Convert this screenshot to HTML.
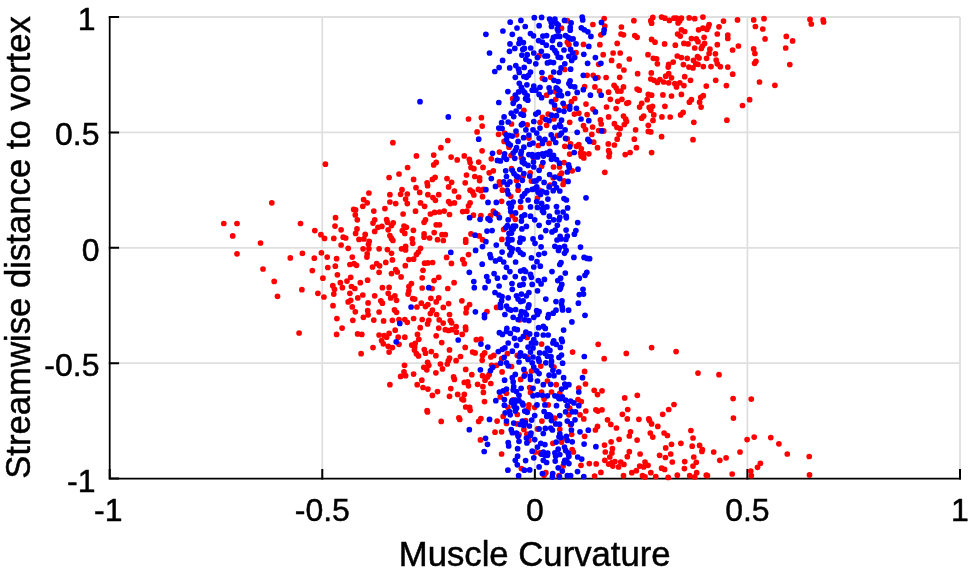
<!DOCTYPE html><html><head><meta charset="utf-8"><title>Scatter</title><style>html,body{margin:0;padding:0;background:#fff}svg{display:block}text{font-family:"Liberation Sans",Arial,Helvetica,sans-serif;fill:#000;stroke:#000;stroke-width:0.5px;stroke-linejoin:round}</style></head><body>
<svg width="969" height="574" viewBox="0 0 969 574">
<rect width="969" height="574" fill="#fff"/>
<path d="M322.27 17.0V478.6M534.85 17.0V478.6M747.42 17.0V478.6M960.00 17.0V478.6M109.7 363.20H960.0M109.7 247.80H960.0M109.7 132.40H960.0M109.7 17.00H960.0" stroke="#dfdfdf" stroke-width="1.8" fill="none"/>
<path d="M109.7 17.0V478.6H960.0" stroke="#000" stroke-width="1.75" fill="none" stroke-linecap="square" stroke-linejoin="miter"/>
<path d="M109.70 479.50V469.00M108.80 478.60H119.10M322.27 479.50V469.00M108.80 363.20H119.10M534.85 479.50V469.00M108.80 247.80H119.10M747.42 479.50V469.00M108.80 132.40H119.10M960.00 479.50V469.00M108.80 17.00H119.10" stroke="#000" stroke-width="2" fill="none" stroke-linecap="butt"/>
<g fill="#ff0000"><circle cx="512.7" cy="98.7" r="2.85"/><circle cx="604.2" cy="18.6" r="2.85"/><circle cx="567.3" cy="20.7" r="2.85"/><circle cx="592.9" cy="24.5" r="2.85"/><circle cx="604.8" cy="26.0" r="2.85"/><circle cx="561.5" cy="28.2" r="2.85"/><circle cx="600.9" cy="34.8" r="2.85"/><circle cx="567.3" cy="42.2" r="2.85"/><circle cx="568.9" cy="44.7" r="2.85"/><circle cx="583.5" cy="44.4" r="2.85"/><circle cx="599.9" cy="44.7" r="2.85"/><circle cx="576.0" cy="52.7" r="2.85"/><circle cx="603.2" cy="54.7" r="2.85"/><circle cx="539.1" cy="55.5" r="2.85"/><circle cx="598.7" cy="64.3" r="2.85"/><circle cx="564.8" cy="69.5" r="2.85"/><circle cx="587.1" cy="75.3" r="2.85"/><circle cx="593.2" cy="75.3" r="2.85"/><circle cx="597.9" cy="77.5" r="2.85"/><circle cx="606.1" cy="77.5" r="2.85"/><circle cx="542.4" cy="78.3" r="2.85"/><circle cx="550.7" cy="77.3" r="2.85"/><circle cx="584.6" cy="86.6" r="2.85"/><circle cx="594.9" cy="86.9" r="2.85"/><circle cx="599.5" cy="91.1" r="2.85"/><circle cx="554.9" cy="91.6" r="2.85"/><circle cx="546.6" cy="95.2" r="2.85"/><circle cx="608.6" cy="92.2" r="2.85"/><circle cx="574.7" cy="98.5" r="2.85"/><circle cx="555.7" cy="99.3" r="2.85"/><circle cx="633.9" cy="20.7" r="2.85"/><circle cx="621.4" cy="27.0" r="2.85"/><circle cx="621.0" cy="34.0" r="2.85"/><circle cx="623.5" cy="34.8" r="2.85"/><circle cx="634.8" cy="35.6" r="2.85"/><circle cx="637.1" cy="37.3" r="2.85"/><circle cx="617.2" cy="43.4" r="2.85"/><circle cx="613.1" cy="53.0" r="2.85"/><circle cx="620.2" cy="53.0" r="2.85"/><circle cx="629.3" cy="59.0" r="2.85"/><circle cx="611.6" cy="60.4" r="2.85"/><circle cx="619.1" cy="65.9" r="2.85"/><circle cx="623.9" cy="70.0" r="2.85"/><circle cx="637.6" cy="73.7" r="2.85"/><circle cx="619.7" cy="77.3" r="2.85"/><circle cx="614.1" cy="85.3" r="2.85"/><circle cx="616.1" cy="87.8" r="2.85"/><circle cx="617.7" cy="91.1" r="2.85"/><circle cx="621.0" cy="91.1" r="2.85"/><circle cx="623.5" cy="86.9" r="2.85"/><circle cx="637.1" cy="89.1" r="2.85"/><circle cx="639.2" cy="90.2" r="2.85"/><circle cx="621.9" cy="99.3" r="2.85"/><circle cx="610.3" cy="99.3" r="2.85"/><circle cx="652.8" cy="17.4" r="2.85"/><circle cx="650.8" cy="20.7" r="2.85"/><circle cx="651.6" cy="23.2" r="2.85"/><circle cx="661.6" cy="17.1" r="2.85"/><circle cx="664.9" cy="18.2" r="2.85"/><circle cx="669.4" cy="20.4" r="2.85"/><circle cx="674.0" cy="18.2" r="2.85"/><circle cx="676.5" cy="18.2" r="2.85"/><circle cx="681.4" cy="18.2" r="2.85"/><circle cx="679.8" cy="20.7" r="2.85"/><circle cx="678.1" cy="22.9" r="2.85"/><circle cx="689.2" cy="17.9" r="2.85"/><circle cx="694.7" cy="18.7" r="2.85"/><circle cx="681.4" cy="29.8" r="2.85"/><circle cx="684.7" cy="31.5" r="2.85"/><circle cx="677.6" cy="34.0" r="2.85"/><circle cx="680.3" cy="36.1" r="2.85"/><circle cx="691.4" cy="38.6" r="2.85"/><circle cx="651.6" cy="39.4" r="2.85"/><circle cx="655.0" cy="42.2" r="2.85"/><circle cx="664.6" cy="43.9" r="2.85"/><circle cx="675.3" cy="45.2" r="2.85"/><circle cx="683.9" cy="43.4" r="2.85"/><circle cx="688.1" cy="43.9" r="2.85"/><circle cx="694.7" cy="48.0" r="2.85"/><circle cx="648.0" cy="54.7" r="2.85"/><circle cx="677.3" cy="56.0" r="2.85"/><circle cx="681.4" cy="57.6" r="2.85"/><circle cx="687.2" cy="58.3" r="2.85"/><circle cx="653.3" cy="58.3" r="2.85"/><circle cx="656.6" cy="58.8" r="2.85"/><circle cx="657.4" cy="63.8" r="2.85"/><circle cx="673.2" cy="62.1" r="2.85"/><circle cx="668.7" cy="64.3" r="2.85"/><circle cx="668.2" cy="67.1" r="2.85"/><circle cx="683.4" cy="64.6" r="2.85"/><circle cx="688.9" cy="67.1" r="2.85"/><circle cx="693.0" cy="67.9" r="2.85"/><circle cx="693.5" cy="60.4" r="2.85"/><circle cx="651.3" cy="72.9" r="2.85"/><circle cx="668.7" cy="73.7" r="2.85"/><circle cx="665.7" cy="76.2" r="2.85"/><circle cx="671.5" cy="77.8" r="2.85"/><circle cx="684.7" cy="76.7" r="2.85"/><circle cx="690.5" cy="80.3" r="2.85"/><circle cx="650.8" cy="79.0" r="2.85"/><circle cx="654.1" cy="80.3" r="2.85"/><circle cx="659.9" cy="79.5" r="2.85"/><circle cx="657.4" cy="82.5" r="2.85"/><circle cx="663.7" cy="82.0" r="2.85"/><circle cx="668.7" cy="82.8" r="2.85"/><circle cx="674.8" cy="83.6" r="2.85"/><circle cx="679.8" cy="82.8" r="2.85"/><circle cx="676.5" cy="86.9" r="2.85"/><circle cx="683.9" cy="85.6" r="2.85"/><circle cx="648.3" cy="94.4" r="2.85"/><circle cx="651.6" cy="95.2" r="2.85"/><circle cx="662.9" cy="94.9" r="2.85"/><circle cx="671.5" cy="96.0" r="2.85"/><circle cx="681.4" cy="94.4" r="2.85"/><circle cx="647.2" cy="99.7" r="2.85"/><circle cx="691.4" cy="99.7" r="2.85"/><circle cx="702.9" cy="17.1" r="2.85"/><circle cx="723.5" cy="21.1" r="2.85"/><circle cx="737.5" cy="19.9" r="2.85"/><circle cx="709.1" cy="24.5" r="2.85"/><circle cx="708.2" cy="27.0" r="2.85"/><circle cx="702.9" cy="28.2" r="2.85"/><circle cx="698.6" cy="29.8" r="2.85"/><circle cx="706.9" cy="29.5" r="2.85"/><circle cx="719.0" cy="26.8" r="2.85"/><circle cx="717.3" cy="34.0" r="2.85"/><circle cx="727.8" cy="35.1" r="2.85"/><circle cx="727.8" cy="38.4" r="2.85"/><circle cx="704.1" cy="37.3" r="2.85"/><circle cx="696.3" cy="38.9" r="2.85"/><circle cx="698.0" cy="41.7" r="2.85"/><circle cx="704.6" cy="43.4" r="2.85"/><circle cx="702.4" cy="46.0" r="2.85"/><circle cx="717.3" cy="44.7" r="2.85"/><circle cx="738.4" cy="46.0" r="2.85"/><circle cx="701.3" cy="48.4" r="2.85"/><circle cx="709.9" cy="49.2" r="2.85"/><circle cx="732.6" cy="50.0" r="2.85"/><circle cx="709.1" cy="53.5" r="2.85"/><circle cx="715.4" cy="53.8" r="2.85"/><circle cx="697.5" cy="56.6" r="2.85"/><circle cx="699.1" cy="58.0" r="2.85"/><circle cx="706.6" cy="58.3" r="2.85"/><circle cx="716.2" cy="60.1" r="2.85"/><circle cx="695.8" cy="63.8" r="2.85"/><circle cx="698.0" cy="64.3" r="2.85"/><circle cx="717.3" cy="63.8" r="2.85"/><circle cx="703.3" cy="66.6" r="2.85"/><circle cx="711.0" cy="66.6" r="2.85"/><circle cx="720.3" cy="66.7" r="2.85"/><circle cx="727.8" cy="67.1" r="2.85"/><circle cx="732.7" cy="74.2" r="2.85"/><circle cx="715.7" cy="80.3" r="2.85"/><circle cx="706.3" cy="86.1" r="2.85"/><circle cx="726.4" cy="85.6" r="2.85"/><circle cx="703.3" cy="95.7" r="2.85"/><circle cx="700.8" cy="97.4" r="2.85"/><circle cx="753.7" cy="19.9" r="2.85"/><circle cx="764.0" cy="18.7" r="2.85"/><circle cx="755.4" cy="26.5" r="2.85"/><circle cx="762.8" cy="29.0" r="2.85"/><circle cx="765.0" cy="38.9" r="2.85"/><circle cx="753.7" cy="48.9" r="2.85"/><circle cx="754.9" cy="53.5" r="2.85"/><circle cx="755.9" cy="61.3" r="2.85"/><circle cx="754.6" cy="63.3" r="2.85"/><circle cx="759.5" cy="82.0" r="2.85"/><circle cx="774.9" cy="85.3" r="2.85"/><circle cx="786.3" cy="36.4" r="2.85"/><circle cx="792.6" cy="40.9" r="2.85"/><circle cx="785.7" cy="48.0" r="2.85"/><circle cx="789.8" cy="64.6" r="2.85"/><circle cx="810.0" cy="19.4" r="2.85"/><circle cx="811.3" cy="24.0" r="2.85"/><circle cx="823.2" cy="19.9" r="2.85"/><circle cx="823.6" cy="22.0" r="2.85"/><circle cx="749.6" cy="99.7" r="2.85"/><circle cx="325.4" cy="164.2" r="2.85"/><circle cx="368.9" cy="193.0" r="2.85"/><circle cx="468.5" cy="119.0" r="2.85"/><circle cx="481.4" cy="117.7" r="2.85"/><circle cx="482.2" cy="126.1" r="2.85"/><circle cx="477.1" cy="131.9" r="2.85"/><circle cx="447.8" cy="140.5" r="2.85"/><circle cx="392.9" cy="142.7" r="2.85"/><circle cx="440.9" cy="147.7" r="2.85"/><circle cx="416.4" cy="155.9" r="2.85"/><circle cx="433.7" cy="155.1" r="2.85"/><circle cx="451.1" cy="157.1" r="2.85"/><circle cx="457.2" cy="159.9" r="2.85"/><circle cx="464.3" cy="155.9" r="2.85"/><circle cx="469.3" cy="159.3" r="2.85"/><circle cx="470.1" cy="162.6" r="2.85"/><circle cx="478.7" cy="162.1" r="2.85"/><circle cx="436.2" cy="162.4" r="2.85"/><circle cx="433.7" cy="164.9" r="2.85"/><circle cx="407.6" cy="167.5" r="2.85"/><circle cx="471.0" cy="167.5" r="2.85"/><circle cx="473.9" cy="168.7" r="2.85"/><circle cx="483.0" cy="167.4" r="2.85"/><circle cx="399.0" cy="174.0" r="2.85"/><circle cx="389.1" cy="177.5" r="2.85"/><circle cx="413.6" cy="179.4" r="2.85"/><circle cx="435.1" cy="177.3" r="2.85"/><circle cx="432.4" cy="179.4" r="2.85"/><circle cx="447.0" cy="178.6" r="2.85"/><circle cx="466.5" cy="175.0" r="2.85"/><circle cx="474.8" cy="176.5" r="2.85"/><circle cx="479.6" cy="177.8" r="2.85"/><circle cx="479.6" cy="180.6" r="2.85"/><circle cx="427.1" cy="182.8" r="2.85"/><circle cx="427.6" cy="185.7" r="2.85"/><circle cx="451.6" cy="182.3" r="2.85"/><circle cx="465.2" cy="182.8" r="2.85"/><circle cx="448.6" cy="186.9" r="2.85"/><circle cx="416.0" cy="187.7" r="2.85"/><circle cx="402.0" cy="189.7" r="2.85"/><circle cx="419.7" cy="192.4" r="2.85"/><circle cx="407.3" cy="194.0" r="2.85"/><circle cx="400.6" cy="194.3" r="2.85"/><circle cx="389.9" cy="194.7" r="2.85"/><circle cx="454.4" cy="191.0" r="2.85"/><circle cx="470.1" cy="190.2" r="2.85"/><circle cx="472.6" cy="191.9" r="2.85"/><circle cx="478.4" cy="189.4" r="2.85"/><circle cx="480.9" cy="190.7" r="2.85"/><circle cx="483.4" cy="189.4" r="2.85"/><circle cx="427.9" cy="194.7" r="2.85"/><circle cx="438.7" cy="194.7" r="2.85"/><circle cx="523.9" cy="110.3" r="2.85"/><circle cx="511.5" cy="124.0" r="2.85"/><circle cx="527.2" cy="124.8" r="2.85"/><circle cx="498.6" cy="134.3" r="2.85"/><circle cx="504.6" cy="133.1" r="2.85"/><circle cx="516.5" cy="134.8" r="2.85"/><circle cx="504.1" cy="141.4" r="2.85"/><circle cx="509.0" cy="147.2" r="2.85"/><circle cx="528.9" cy="138.1" r="2.85"/><circle cx="482.1" cy="150.8" r="2.85"/><circle cx="499.4" cy="152.1" r="2.85"/><circle cx="491.3" cy="158.8" r="2.85"/><circle cx="511.0" cy="155.4" r="2.85"/><circle cx="493.3" cy="170.8" r="2.85"/><circle cx="489.2" cy="172.8" r="2.85"/><circle cx="511.5" cy="168.7" r="2.85"/><circle cx="530.2" cy="172.8" r="2.85"/><circle cx="523.1" cy="176.1" r="2.85"/><circle cx="516.5" cy="180.6" r="2.85"/><circle cx="499.4" cy="181.9" r="2.85"/><circle cx="499.9" cy="184.7" r="2.85"/><circle cx="502.4" cy="190.2" r="2.85"/><circle cx="518.1" cy="190.2" r="2.85"/><circle cx="531.4" cy="181.1" r="2.85"/><circle cx="533.8" cy="157.9" r="2.85"/><circle cx="521.4" cy="157.9" r="2.85"/><circle cx="571.4" cy="101.7" r="2.85"/><circle cx="586.0" cy="104.1" r="2.85"/><circle cx="564.8" cy="106.6" r="2.85"/><circle cx="554.9" cy="108.3" r="2.85"/><circle cx="592.9" cy="109.1" r="2.85"/><circle cx="574.4" cy="114.1" r="2.85"/><circle cx="578.8" cy="113.2" r="2.85"/><circle cx="587.1" cy="114.6" r="2.85"/><circle cx="548.2" cy="114.1" r="2.85"/><circle cx="542.4" cy="117.4" r="2.85"/><circle cx="540.0" cy="122.3" r="2.85"/><circle cx="546.6" cy="125.3" r="2.85"/><circle cx="569.7" cy="122.3" r="2.85"/><circle cx="554.0" cy="119.0" r="2.85"/><circle cx="600.4" cy="119.9" r="2.85"/><circle cx="601.2" cy="124.0" r="2.85"/><circle cx="583.5" cy="125.7" r="2.85"/><circle cx="592.6" cy="127.0" r="2.85"/><circle cx="585.5" cy="129.5" r="2.85"/><circle cx="598.7" cy="130.6" r="2.85"/><circle cx="603.7" cy="130.9" r="2.85"/><circle cx="591.8" cy="134.4" r="2.85"/><circle cx="557.3" cy="135.6" r="2.85"/><circle cx="567.3" cy="138.9" r="2.85"/><circle cx="593.7" cy="142.2" r="2.85"/><circle cx="570.6" cy="143.9" r="2.85"/><circle cx="578.8" cy="144.7" r="2.85"/><circle cx="576.4" cy="146.3" r="2.85"/><circle cx="564.8" cy="146.3" r="2.85"/><circle cx="581.3" cy="148.8" r="2.85"/><circle cx="597.5" cy="147.7" r="2.85"/><circle cx="549.1" cy="143.4" r="2.85"/><circle cx="538.3" cy="145.5" r="2.85"/><circle cx="569.7" cy="154.1" r="2.85"/><circle cx="580.5" cy="153.0" r="2.85"/><circle cx="583.8" cy="153.8" r="2.85"/><circle cx="588.8" cy="153.8" r="2.85"/><circle cx="581.3" cy="156.3" r="2.85"/><circle cx="583.8" cy="157.9" r="2.85"/><circle cx="564.0" cy="162.6" r="2.85"/><circle cx="553.5" cy="167.0" r="2.85"/><circle cx="559.5" cy="167.0" r="2.85"/><circle cx="541.6" cy="166.2" r="2.85"/><circle cx="572.2" cy="170.8" r="2.85"/><circle cx="561.5" cy="173.2" r="2.85"/><circle cx="559.8" cy="175.3" r="2.85"/><circle cx="553.2" cy="177.8" r="2.85"/><circle cx="564.0" cy="180.8" r="2.85"/><circle cx="563.1" cy="184.4" r="2.85"/><circle cx="549.9" cy="185.2" r="2.85"/><circle cx="539.1" cy="190.2" r="2.85"/><circle cx="617.7" cy="101.3" r="2.85"/><circle cx="626.8" cy="103.3" r="2.85"/><circle cx="628.5" cy="102.5" r="2.85"/><circle cx="606.5" cy="107.0" r="2.85"/><circle cx="616.1" cy="108.6" r="2.85"/><circle cx="608.6" cy="116.9" r="2.85"/><circle cx="623.5" cy="116.1" r="2.85"/><circle cx="625.7" cy="119.0" r="2.85"/><circle cx="626.5" cy="121.5" r="2.85"/><circle cx="624.3" cy="124.5" r="2.85"/><circle cx="614.4" cy="123.7" r="2.85"/><circle cx="616.9" cy="127.3" r="2.85"/><circle cx="620.2" cy="128.5" r="2.85"/><circle cx="619.1" cy="134.3" r="2.85"/><circle cx="617.2" cy="139.2" r="2.85"/><circle cx="608.3" cy="143.9" r="2.85"/><circle cx="614.4" cy="145.0" r="2.85"/><circle cx="608.6" cy="150.5" r="2.85"/><circle cx="609.5" cy="153.0" r="2.85"/><circle cx="609.0" cy="156.6" r="2.85"/><circle cx="604.8" cy="172.3" r="2.85"/><circle cx="625.2" cy="154.6" r="2.85"/><circle cx="630.1" cy="152.5" r="2.85"/><circle cx="636.4" cy="147.7" r="2.85"/><circle cx="634.3" cy="139.2" r="2.85"/><circle cx="635.6" cy="129.8" r="2.85"/><circle cx="641.7" cy="103.3" r="2.85"/><circle cx="639.6" cy="107.1" r="2.85"/><circle cx="649.2" cy="107.4" r="2.85"/><circle cx="652.5" cy="106.3" r="2.85"/><circle cx="650.8" cy="110.3" r="2.85"/><circle cx="653.8" cy="114.9" r="2.85"/><circle cx="643.7" cy="116.1" r="2.85"/><circle cx="641.7" cy="118.2" r="2.85"/><circle cx="653.0" cy="120.4" r="2.85"/><circle cx="648.3" cy="125.3" r="2.85"/><circle cx="648.3" cy="131.4" r="2.85"/><circle cx="650.8" cy="131.9" r="2.85"/><circle cx="651.6" cy="152.6" r="2.85"/><circle cx="661.6" cy="136.7" r="2.85"/><circle cx="661.9" cy="116.9" r="2.85"/><circle cx="670.2" cy="117.0" r="2.85"/><circle cx="664.9" cy="106.3" r="2.85"/><circle cx="680.6" cy="114.9" r="2.85"/><circle cx="683.1" cy="112.4" r="2.85"/><circle cx="689.4" cy="102.2" r="2.85"/><circle cx="693.8" cy="122.3" r="2.85"/><circle cx="693.0" cy="139.7" r="2.85"/><circle cx="699.6" cy="102.2" r="2.85"/><circle cx="701.1" cy="107.1" r="2.85"/><circle cx="742.5" cy="105.5" r="2.85"/><circle cx="726.9" cy="120.2" r="2.85"/><circle cx="271.8" cy="202.8" r="2.85"/><circle cx="223.8" cy="223.5" r="2.85"/><circle cx="237.0" cy="223.5" r="2.85"/><circle cx="232.7" cy="235.9" r="2.85"/><circle cx="260.5" cy="243.0" r="2.85"/><circle cx="237.0" cy="253.8" r="2.85"/><circle cx="263.0" cy="269.0" r="2.85"/><circle cx="274.2" cy="281.4" r="2.85"/><circle cx="300.5" cy="223.5" r="2.85"/><circle cx="314.8" cy="230.6" r="2.85"/><circle cx="320.9" cy="234.7" r="2.85"/><circle cx="324.5" cy="238.4" r="2.85"/><circle cx="302.4" cy="253.4" r="2.85"/><circle cx="290.3" cy="257.9" r="2.85"/><circle cx="314.3" cy="258.2" r="2.85"/><circle cx="321.4" cy="252.9" r="2.85"/><circle cx="327.2" cy="257.1" r="2.85"/><circle cx="312.3" cy="270.6" r="2.85"/><circle cx="322.9" cy="278.2" r="2.85"/><circle cx="327.8" cy="267.5" r="2.85"/><circle cx="301.9" cy="289.7" r="2.85"/><circle cx="333.8" cy="238.4" r="2.85"/><circle cx="335.5" cy="217.7" r="2.85"/><circle cx="335.0" cy="226.1" r="2.85"/><circle cx="341.1" cy="229.8" r="2.85"/><circle cx="343.2" cy="237.2" r="2.85"/><circle cx="345.7" cy="238.0" r="2.85"/><circle cx="341.1" cy="245.0" r="2.85"/><circle cx="348.2" cy="248.3" r="2.85"/><circle cx="336.6" cy="258.7" r="2.85"/><circle cx="335.3" cy="266.2" r="2.85"/><circle cx="337.4" cy="274.8" r="2.85"/><circle cx="352.3" cy="257.1" r="2.85"/><circle cx="349.9" cy="264.5" r="2.85"/><circle cx="354.0" cy="263.7" r="2.85"/><circle cx="356.5" cy="265.3" r="2.85"/><circle cx="350.7" cy="277.3" r="2.85"/><circle cx="347.0" cy="281.1" r="2.85"/><circle cx="340.3" cy="282.7" r="2.85"/><circle cx="332.8" cy="285.7" r="2.85"/><circle cx="342.4" cy="287.7" r="2.85"/><circle cx="334.5" cy="289.3" r="2.85"/><circle cx="351.5" cy="286.5" r="2.85"/><circle cx="354.8" cy="288.5" r="2.85"/><circle cx="360.3" cy="282.7" r="2.85"/><circle cx="367.6" cy="280.2" r="2.85"/><circle cx="372.5" cy="267.0" r="2.85"/><circle cx="366.9" cy="257.1" r="2.85"/><circle cx="367.2" cy="253.8" r="2.85"/><circle cx="363.1" cy="248.8" r="2.85"/><circle cx="368.9" cy="248.8" r="2.85"/><circle cx="368.5" cy="244.3" r="2.85"/><circle cx="369.2" cy="241.3" r="2.85"/><circle cx="363.9" cy="238.9" r="2.85"/><circle cx="359.0" cy="239.4" r="2.85"/><circle cx="365.2" cy="234.4" r="2.85"/><circle cx="355.6" cy="233.4" r="2.85"/><circle cx="357.0" cy="228.9" r="2.85"/><circle cx="357.3" cy="219.8" r="2.85"/><circle cx="355.3" cy="214.9" r="2.85"/><circle cx="353.7" cy="209.4" r="2.85"/><circle cx="355.6" cy="209.9" r="2.85"/><circle cx="362.8" cy="206.3" r="2.85"/><circle cx="367.2" cy="202.8" r="2.85"/><circle cx="363.6" cy="199.6" r="2.85"/><circle cx="373.8" cy="211.1" r="2.85"/><circle cx="373.0" cy="223.1" r="2.85"/><circle cx="374.7" cy="219.8" r="2.85"/><circle cx="374.7" cy="231.4" r="2.85"/><circle cx="405.6" cy="199.1" r="2.85"/><circle cx="407.3" cy="203.6" r="2.85"/><circle cx="389.9" cy="202.0" r="2.85"/><circle cx="395.7" cy="203.6" r="2.85"/><circle cx="384.9" cy="208.6" r="2.85"/><circle cx="403.1" cy="214.0" r="2.85"/><circle cx="415.5" cy="211.2" r="2.85"/><circle cx="420.5" cy="202.9" r="2.85"/><circle cx="424.6" cy="206.3" r="2.85"/><circle cx="432.9" cy="197.5" r="2.85"/><circle cx="435.4" cy="200.3" r="2.85"/><circle cx="448.6" cy="201.6" r="2.85"/><circle cx="450.3" cy="203.6" r="2.85"/><circle cx="454.4" cy="202.9" r="2.85"/><circle cx="458.6" cy="197.0" r="2.85"/><circle cx="473.9" cy="195.0" r="2.85"/><circle cx="482.5" cy="196.7" r="2.85"/><circle cx="470.1" cy="202.8" r="2.85"/><circle cx="468.5" cy="205.8" r="2.85"/><circle cx="462.7" cy="211.6" r="2.85"/><circle cx="466.8" cy="211.2" r="2.85"/><circle cx="430.4" cy="214.0" r="2.85"/><circle cx="434.6" cy="212.4" r="2.85"/><circle cx="439.5" cy="212.0" r="2.85"/><circle cx="444.2" cy="211.1" r="2.85"/><circle cx="449.5" cy="214.5" r="2.85"/><circle cx="473.4" cy="215.2" r="2.85"/><circle cx="480.9" cy="215.7" r="2.85"/><circle cx="386.6" cy="219.5" r="2.85"/><circle cx="387.4" cy="222.3" r="2.85"/><circle cx="393.2" cy="222.8" r="2.85"/><circle cx="391.5" cy="225.6" r="2.85"/><circle cx="381.9" cy="226.4" r="2.85"/><circle cx="378.0" cy="227.3" r="2.85"/><circle cx="388.2" cy="229.8" r="2.85"/><circle cx="404.0" cy="226.1" r="2.85"/><circle cx="406.4" cy="227.3" r="2.85"/><circle cx="402.3" cy="230.6" r="2.85"/><circle cx="404.8" cy="233.4" r="2.85"/><circle cx="413.4" cy="230.3" r="2.85"/><circle cx="425.5" cy="219.8" r="2.85"/><circle cx="424.1" cy="222.3" r="2.85"/><circle cx="436.2" cy="224.8" r="2.85"/><circle cx="439.5" cy="224.8" r="2.85"/><circle cx="434.2" cy="232.6" r="2.85"/><circle cx="424.1" cy="233.9" r="2.85"/><circle cx="424.1" cy="237.2" r="2.85"/><circle cx="429.6" cy="238.0" r="2.85"/><circle cx="442.0" cy="234.7" r="2.85"/><circle cx="445.3" cy="234.7" r="2.85"/><circle cx="437.5" cy="239.7" r="2.85"/><circle cx="443.3" cy="240.5" r="2.85"/><circle cx="412.2" cy="238.9" r="2.85"/><circle cx="412.7" cy="243.3" r="2.85"/><circle cx="389.9" cy="235.5" r="2.85"/><circle cx="391.5" cy="238.4" r="2.85"/><circle cx="392.9" cy="240.5" r="2.85"/><circle cx="405.6" cy="246.3" r="2.85"/><circle cx="401.5" cy="248.8" r="2.85"/><circle cx="405.6" cy="249.9" r="2.85"/><circle cx="420.5" cy="248.3" r="2.85"/><circle cx="418.4" cy="252.1" r="2.85"/><circle cx="416.4" cy="254.6" r="2.85"/><circle cx="379.1" cy="248.8" r="2.85"/><circle cx="387.4" cy="249.6" r="2.85"/><circle cx="391.5" cy="253.3" r="2.85"/><circle cx="392.4" cy="259.9" r="2.85"/><circle cx="385.8" cy="262.4" r="2.85"/><circle cx="376.7" cy="263.7" r="2.85"/><circle cx="379.6" cy="265.8" r="2.85"/><circle cx="379.1" cy="272.3" r="2.85"/><circle cx="408.9" cy="259.5" r="2.85"/><circle cx="413.6" cy="259.2" r="2.85"/><circle cx="405.3" cy="265.7" r="2.85"/><circle cx="424.6" cy="263.2" r="2.85"/><circle cx="427.9" cy="262.9" r="2.85"/><circle cx="432.6" cy="262.5" r="2.85"/><circle cx="423.0" cy="270.3" r="2.85"/><circle cx="422.2" cy="277.8" r="2.85"/><circle cx="395.7" cy="269.5" r="2.85"/><circle cx="397.3" cy="272.0" r="2.85"/><circle cx="391.5" cy="273.6" r="2.85"/><circle cx="401.1" cy="276.9" r="2.85"/><circle cx="438.7" cy="277.3" r="2.85"/><circle cx="434.1" cy="280.6" r="2.85"/><circle cx="411.4" cy="283.5" r="2.85"/><circle cx="408.9" cy="286.5" r="2.85"/><circle cx="382.4" cy="287.7" r="2.85"/><circle cx="389.1" cy="287.4" r="2.85"/><circle cx="422.2" cy="288.0" r="2.85"/><circle cx="432.1" cy="288.5" r="2.85"/><circle cx="447.8" cy="288.5" r="2.85"/><circle cx="454.1" cy="282.7" r="2.85"/><circle cx="446.6" cy="257.4" r="2.85"/><circle cx="451.4" cy="263.4" r="2.85"/><circle cx="462.7" cy="259.5" r="2.85"/><circle cx="464.3" cy="263.7" r="2.85"/><circle cx="468.5" cy="254.6" r="2.85"/><circle cx="465.7" cy="239.7" r="2.85"/><circle cx="465.7" cy="242.2" r="2.85"/><circle cx="471.0" cy="233.9" r="2.85"/><circle cx="479.2" cy="235.9" r="2.85"/><circle cx="482.5" cy="239.7" r="2.85"/><circle cx="490.5" cy="215.7" r="2.85"/><circle cx="493.3" cy="211.1" r="2.85"/><circle cx="497.8" cy="214.5" r="2.85"/><circle cx="501.6" cy="201.3" r="2.85"/><circle cx="510.7" cy="196.3" r="2.85"/><circle cx="520.6" cy="207.4" r="2.85"/><circle cx="512.3" cy="215.7" r="2.85"/><circle cx="515.3" cy="219.3" r="2.85"/><circle cx="503.7" cy="229.4" r="2.85"/><circle cx="501.9" cy="239.4" r="2.85"/><circle cx="537.5" cy="198.0" r="2.85"/><circle cx="277.5" cy="296.3" r="2.85"/><circle cx="317.9" cy="293.3" r="2.85"/><circle cx="323.9" cy="297.0" r="2.85"/><circle cx="333.8" cy="294.1" r="2.85"/><circle cx="349.9" cy="293.3" r="2.85"/><circle cx="362.8" cy="295.0" r="2.85"/><circle cx="357.8" cy="297.9" r="2.85"/><circle cx="350.7" cy="300.3" r="2.85"/><circle cx="348.2" cy="301.9" r="2.85"/><circle cx="368.1" cy="302.9" r="2.85"/><circle cx="333.0" cy="305.7" r="2.85"/><circle cx="352.3" cy="306.9" r="2.85"/><circle cx="355.3" cy="311.8" r="2.85"/><circle cx="367.7" cy="310.7" r="2.85"/><circle cx="368.1" cy="314.8" r="2.85"/><circle cx="363.4" cy="317.3" r="2.85"/><circle cx="336.9" cy="318.6" r="2.85"/><circle cx="352.8" cy="320.3" r="2.85"/><circle cx="373.8" cy="320.1" r="2.85"/><circle cx="342.1" cy="328.1" r="2.85"/><circle cx="299.1" cy="333.0" r="2.85"/><circle cx="336.6" cy="334.4" r="2.85"/><circle cx="357.6" cy="333.9" r="2.85"/><circle cx="361.8" cy="334.4" r="2.85"/><circle cx="373.0" cy="347.6" r="2.85"/><circle cx="361.1" cy="353.7" r="2.85"/><circle cx="374.7" cy="295.8" r="2.85"/><circle cx="380.8" cy="300.8" r="2.85"/><circle cx="382.4" cy="303.2" r="2.85"/><circle cx="388.2" cy="293.3" r="2.85"/><circle cx="390.7" cy="297.9" r="2.85"/><circle cx="394.9" cy="295.8" r="2.85"/><circle cx="396.5" cy="300.3" r="2.85"/><circle cx="379.1" cy="312.0" r="2.85"/><circle cx="394.5" cy="309.9" r="2.85"/><circle cx="396.5" cy="312.3" r="2.85"/><circle cx="383.6" cy="320.9" r="2.85"/><circle cx="392.4" cy="320.3" r="2.85"/><circle cx="399.0" cy="319.5" r="2.85"/><circle cx="404.8" cy="319.5" r="2.85"/><circle cx="407.3" cy="322.3" r="2.85"/><circle cx="395.2" cy="330.2" r="2.85"/><circle cx="389.1" cy="333.4" r="2.85"/><circle cx="379.1" cy="335.0" r="2.85"/><circle cx="384.1" cy="335.5" r="2.85"/><circle cx="386.6" cy="337.2" r="2.85"/><circle cx="398.2" cy="337.2" r="2.85"/><circle cx="404.8" cy="337.2" r="2.85"/><circle cx="381.6" cy="340.5" r="2.85"/><circle cx="383.3" cy="343.8" r="2.85"/><circle cx="388.2" cy="346.3" r="2.85"/><circle cx="392.4" cy="347.6" r="2.85"/><circle cx="399.0" cy="344.3" r="2.85"/><circle cx="389.1" cy="352.1" r="2.85"/><circle cx="408.1" cy="294.1" r="2.85"/><circle cx="408.9" cy="290.8" r="2.85"/><circle cx="412.7" cy="298.6" r="2.85"/><circle cx="414.7" cy="299.1" r="2.85"/><circle cx="421.3" cy="303.2" r="2.85"/><circle cx="416.9" cy="307.0" r="2.85"/><circle cx="425.5" cy="306.6" r="2.85"/><circle cx="427.9" cy="304.6" r="2.85"/><circle cx="430.9" cy="298.3" r="2.85"/><circle cx="438.7" cy="297.9" r="2.85"/><circle cx="436.2" cy="301.9" r="2.85"/><circle cx="443.3" cy="307.4" r="2.85"/><circle cx="448.6" cy="303.6" r="2.85"/><circle cx="432.4" cy="310.2" r="2.85"/><circle cx="430.4" cy="313.5" r="2.85"/><circle cx="436.6" cy="314.5" r="2.85"/><circle cx="449.5" cy="314.5" r="2.85"/><circle cx="413.6" cy="318.5" r="2.85"/><circle cx="422.2" cy="319.5" r="2.85"/><circle cx="428.8" cy="320.3" r="2.85"/><circle cx="427.6" cy="323.9" r="2.85"/><circle cx="439.2" cy="319.8" r="2.85"/><circle cx="443.2" cy="323.1" r="2.85"/><circle cx="450.3" cy="320.6" r="2.85"/><circle cx="451.6" cy="322.8" r="2.85"/><circle cx="420.2" cy="327.7" r="2.85"/><circle cx="438.7" cy="328.1" r="2.85"/><circle cx="445.3" cy="329.7" r="2.85"/><circle cx="448.6" cy="330.5" r="2.85"/><circle cx="451.9" cy="329.7" r="2.85"/><circle cx="456.1" cy="326.7" r="2.85"/><circle cx="456.4" cy="332.2" r="2.85"/><circle cx="417.5" cy="334.4" r="2.85"/><circle cx="418.8" cy="339.3" r="2.85"/><circle cx="436.2" cy="335.8" r="2.85"/><circle cx="441.7" cy="342.6" r="2.85"/><circle cx="415.2" cy="343.3" r="2.85"/><circle cx="411.7" cy="345.1" r="2.85"/><circle cx="414.7" cy="347.1" r="2.85"/><circle cx="414.4" cy="349.9" r="2.85"/><circle cx="416.4" cy="353.7" r="2.85"/><circle cx="418.5" cy="355.9" r="2.85"/><circle cx="424.3" cy="349.6" r="2.85"/><circle cx="425.5" cy="353.2" r="2.85"/><circle cx="431.3" cy="351.6" r="2.85"/><circle cx="435.9" cy="355.7" r="2.85"/><circle cx="449.5" cy="349.9" r="2.85"/><circle cx="449.5" cy="358.2" r="2.85"/><circle cx="448.3" cy="360.8" r="2.85"/><circle cx="427.6" cy="362.3" r="2.85"/><circle cx="428.8" cy="365.3" r="2.85"/><circle cx="423.8" cy="367.3" r="2.85"/><circle cx="426.8" cy="369.8" r="2.85"/><circle cx="404.5" cy="365.3" r="2.85"/><circle cx="404.0" cy="371.9" r="2.85"/><circle cx="400.6" cy="376.4" r="2.85"/><circle cx="405.6" cy="375.7" r="2.85"/><circle cx="413.6" cy="374.1" r="2.85"/><circle cx="421.8" cy="380.2" r="2.85"/><circle cx="435.9" cy="372.8" r="2.85"/><circle cx="442.5" cy="368.9" r="2.85"/><circle cx="440.4" cy="364.0" r="2.85"/><circle cx="447.3" cy="364.0" r="2.85"/><circle cx="456.1" cy="360.7" r="2.85"/><circle cx="460.5" cy="356.5" r="2.85"/><circle cx="465.2" cy="347.4" r="2.85"/><circle cx="462.2" cy="334.4" r="2.85"/><circle cx="465.5" cy="327.2" r="2.85"/><circle cx="465.7" cy="329.7" r="2.85"/><circle cx="461.9" cy="300.8" r="2.85"/><circle cx="469.6" cy="304.6" r="2.85"/><circle cx="466.5" cy="308.2" r="2.85"/><circle cx="466.0" cy="312.7" r="2.85"/><circle cx="465.7" cy="369.4" r="2.85"/><circle cx="471.8" cy="374.7" r="2.85"/><circle cx="453.6" cy="376.9" r="2.85"/><circle cx="454.4" cy="379.4" r="2.85"/><circle cx="464.3" cy="382.4" r="2.85"/><circle cx="467.7" cy="381.9" r="2.85"/><circle cx="417.2" cy="384.7" r="2.85"/><circle cx="389.9" cy="384.7" r="2.85"/><circle cx="476.3" cy="339.7" r="2.85"/><circle cx="480.9" cy="339.2" r="2.85"/><circle cx="472.6" cy="352.1" r="2.85"/><circle cx="475.1" cy="352.9" r="2.85"/><circle cx="484.7" cy="352.9" r="2.85"/><circle cx="482.5" cy="355.4" r="2.85"/><circle cx="482.2" cy="360.3" r="2.85"/><circle cx="490.8" cy="357.0" r="2.85"/><circle cx="493.8" cy="355.4" r="2.85"/><circle cx="496.6" cy="307.4" r="2.85"/><circle cx="487.0" cy="311.5" r="2.85"/><circle cx="507.4" cy="353.7" r="2.85"/><circle cx="501.6" cy="358.7" r="2.85"/><circle cx="496.6" cy="365.3" r="2.85"/><circle cx="491.6" cy="365.3" r="2.85"/><circle cx="511.5" cy="366.5" r="2.85"/><circle cx="502.1" cy="371.9" r="2.85"/><circle cx="489.2" cy="374.4" r="2.85"/><circle cx="487.5" cy="376.9" r="2.85"/><circle cx="482.5" cy="375.7" r="2.85"/><circle cx="485.0" cy="380.2" r="2.85"/><circle cx="490.8" cy="383.5" r="2.85"/><circle cx="520.6" cy="379.4" r="2.85"/><circle cx="525.2" cy="373.6" r="2.85"/><circle cx="531.4" cy="371.1" r="2.85"/><circle cx="527.2" cy="337.5" r="2.85"/><circle cx="517.3" cy="355.4" r="2.85"/><circle cx="527.2" cy="357.0" r="2.85"/><circle cx="519.8" cy="319.8" r="2.85"/><circle cx="477.6" cy="384.3" r="2.85"/><circle cx="541.6" cy="344.1" r="2.85"/><circle cx="598.2" cy="344.3" r="2.85"/><circle cx="572.6" cy="352.1" r="2.85"/><circle cx="604.2" cy="358.7" r="2.85"/><circle cx="626.3" cy="353.4" r="2.85"/><circle cx="651.6" cy="347.6" r="2.85"/><circle cx="676.1" cy="351.6" r="2.85"/><circle cx="540.8" cy="366.1" r="2.85"/><circle cx="554.0" cy="367.0" r="2.85"/><circle cx="584.6" cy="371.4" r="2.85"/><circle cx="547.4" cy="381.0" r="2.85"/><circle cx="585.5" cy="384.0" r="2.85"/><circle cx="556.2" cy="384.7" r="2.85"/><circle cx="698.0" cy="373.1" r="2.85"/><circle cx="719.0" cy="374.7" r="2.85"/><circle cx="423.0" cy="387.5" r="2.85"/><circle cx="427.9" cy="389.1" r="2.85"/><circle cx="437.5" cy="391.6" r="2.85"/><circle cx="432.4" cy="395.4" r="2.85"/><circle cx="450.8" cy="388.6" r="2.85"/><circle cx="449.5" cy="396.3" r="2.85"/><circle cx="457.7" cy="394.4" r="2.85"/><circle cx="464.3" cy="394.4" r="2.85"/><circle cx="461.9" cy="399.1" r="2.85"/><circle cx="463.5" cy="399.9" r="2.85"/><circle cx="468.5" cy="385.8" r="2.85"/><circle cx="465.7" cy="407.0" r="2.85"/><circle cx="469.6" cy="407.3" r="2.85"/><circle cx="470.1" cy="410.3" r="2.85"/><circle cx="427.1" cy="410.7" r="2.85"/><circle cx="427.5" cy="412.0" r="2.85"/><circle cx="441.2" cy="421.4" r="2.85"/><circle cx="458.9" cy="417.8" r="2.85"/><circle cx="459.7" cy="419.4" r="2.85"/><circle cx="480.9" cy="418.6" r="2.85"/><circle cx="478.7" cy="421.4" r="2.85"/><circle cx="482.9" cy="386.7" r="2.85"/><circle cx="483.4" cy="392.4" r="2.85"/><circle cx="484.5" cy="401.6" r="2.85"/><circle cx="497.1" cy="421.1" r="2.85"/><circle cx="495.0" cy="432.2" r="2.85"/><circle cx="501.6" cy="431.8" r="2.85"/><circle cx="480.4" cy="439.9" r="2.85"/><circle cx="501.6" cy="454.0" r="2.85"/><circle cx="500.3" cy="396.9" r="2.85"/><circle cx="506.5" cy="393.3" r="2.85"/><circle cx="503.2" cy="416.4" r="2.85"/><circle cx="506.5" cy="423.4" r="2.85"/><circle cx="507.9" cy="407.3" r="2.85"/><circle cx="517.3" cy="414.5" r="2.85"/><circle cx="517.3" cy="423.9" r="2.85"/><circle cx="523.9" cy="429.4" r="2.85"/><circle cx="528.9" cy="404.9" r="2.85"/><circle cx="528.1" cy="409.0" r="2.85"/><circle cx="529.7" cy="387.5" r="2.85"/><circle cx="530.5" cy="392.4" r="2.85"/><circle cx="519.0" cy="434.7" r="2.85"/><circle cx="526.9" cy="434.2" r="2.85"/><circle cx="528.9" cy="440.4" r="2.85"/><circle cx="521.4" cy="468.6" r="2.85"/><circle cx="513.2" cy="399.9" r="2.85"/><circle cx="525.6" cy="420.6" r="2.85"/><circle cx="534.7" cy="407.3" r="2.85"/><circle cx="578.8" cy="388.0" r="2.85"/><circle cx="551.5" cy="392.0" r="2.85"/><circle cx="541.6" cy="392.0" r="2.85"/><circle cx="559.8" cy="393.3" r="2.85"/><circle cx="544.1" cy="399.1" r="2.85"/><circle cx="548.2" cy="404.9" r="2.85"/><circle cx="578.0" cy="399.6" r="2.85"/><circle cx="581.3" cy="401.6" r="2.85"/><circle cx="569.7" cy="408.2" r="2.85"/><circle cx="568.9" cy="414.8" r="2.85"/><circle cx="580.0" cy="414.8" r="2.85"/><circle cx="583.8" cy="418.9" r="2.85"/><circle cx="585.8" cy="411.0" r="2.85"/><circle cx="541.9" cy="421.1" r="2.85"/><circle cx="554.9" cy="418.1" r="2.85"/><circle cx="570.6" cy="424.7" r="2.85"/><circle cx="537.5" cy="428.9" r="2.85"/><circle cx="559.8" cy="429.4" r="2.85"/><circle cx="571.7" cy="434.3" r="2.85"/><circle cx="584.6" cy="436.3" r="2.85"/><circle cx="562.3" cy="438.8" r="2.85"/><circle cx="561.5" cy="442.1" r="2.85"/><circle cx="552.9" cy="443.3" r="2.85"/><circle cx="572.2" cy="449.5" r="2.85"/><circle cx="573.4" cy="452.0" r="2.85"/><circle cx="535.0" cy="452.0" r="2.85"/><circle cx="540.0" cy="452.9" r="2.85"/><circle cx="563.1" cy="466.1" r="2.85"/><circle cx="581.0" cy="465.3" r="2.85"/><circle cx="545.8" cy="472.7" r="2.85"/><circle cx="544.1" cy="475.2" r="2.85"/><circle cx="559.0" cy="475.7" r="2.85"/><circle cx="594.2" cy="390.3" r="2.85"/><circle cx="602.0" cy="390.8" r="2.85"/><circle cx="597.5" cy="394.6" r="2.85"/><circle cx="595.9" cy="409.8" r="2.85"/><circle cx="597.9" cy="411.1" r="2.85"/><circle cx="602.0" cy="409.8" r="2.85"/><circle cx="597.5" cy="426.4" r="2.85"/><circle cx="595.4" cy="430.0" r="2.85"/><circle cx="607.5" cy="419.8" r="2.85"/><circle cx="610.8" cy="424.4" r="2.85"/><circle cx="616.4" cy="428.0" r="2.85"/><circle cx="619.1" cy="439.3" r="2.85"/><circle cx="611.1" cy="441.8" r="2.85"/><circle cx="604.5" cy="445.1" r="2.85"/><circle cx="605.3" cy="452.0" r="2.85"/><circle cx="612.4" cy="448.7" r="2.85"/><circle cx="611.9" cy="452.9" r="2.85"/><circle cx="609.8" cy="457.0" r="2.85"/><circle cx="604.8" cy="460.3" r="2.85"/><circle cx="608.6" cy="464.1" r="2.85"/><circle cx="611.9" cy="462.5" r="2.85"/><circle cx="614.9" cy="461.5" r="2.85"/><circle cx="612.8" cy="466.1" r="2.85"/><circle cx="620.7" cy="462.0" r="2.85"/><circle cx="623.9" cy="464.4" r="2.85"/><circle cx="618.6" cy="466.9" r="2.85"/><circle cx="589.3" cy="463.6" r="2.85"/><circle cx="596.2" cy="463.9" r="2.85"/><circle cx="600.9" cy="472.4" r="2.85"/><circle cx="594.6" cy="476.0" r="2.85"/><circle cx="623.5" cy="475.7" r="2.85"/><circle cx="631.8" cy="472.7" r="2.85"/><circle cx="636.3" cy="470.7" r="2.85"/><circle cx="639.7" cy="466.1" r="2.85"/><circle cx="642.5" cy="475.7" r="2.85"/><circle cx="645.0" cy="476.9" r="2.85"/><circle cx="643.7" cy="466.9" r="2.85"/><circle cx="645.0" cy="462.0" r="2.85"/><circle cx="648.0" cy="465.3" r="2.85"/><circle cx="650.8" cy="472.7" r="2.85"/><circle cx="655.8" cy="476.5" r="2.85"/><circle cx="661.6" cy="468.2" r="2.85"/><circle cx="664.6" cy="469.4" r="2.85"/><circle cx="668.2" cy="477.4" r="2.85"/><circle cx="672.3" cy="462.0" r="2.85"/><circle cx="677.3" cy="475.2" r="2.85"/><circle cx="684.7" cy="461.6" r="2.85"/><circle cx="684.4" cy="468.6" r="2.85"/><circle cx="689.7" cy="475.7" r="2.85"/><circle cx="693.0" cy="466.1" r="2.85"/><circle cx="694.7" cy="476.9" r="2.85"/><circle cx="693.8" cy="457.0" r="2.85"/><circle cx="692.2" cy="446.2" r="2.85"/><circle cx="693.0" cy="438.0" r="2.85"/><circle cx="690.9" cy="430.5" r="2.85"/><circle cx="680.9" cy="443.3" r="2.85"/><circle cx="671.5" cy="444.3" r="2.85"/><circle cx="665.7" cy="447.9" r="2.85"/><circle cx="670.7" cy="454.0" r="2.85"/><circle cx="665.4" cy="457.5" r="2.85"/><circle cx="659.6" cy="455.3" r="2.85"/><circle cx="667.4" cy="435.5" r="2.85"/><circle cx="664.1" cy="433.0" r="2.85"/><circle cx="657.8" cy="426.4" r="2.85"/><circle cx="651.6" cy="423.9" r="2.85"/><circle cx="648.8" cy="418.9" r="2.85"/><circle cx="649.5" cy="420.6" r="2.85"/><circle cx="650.3" cy="433.0" r="2.85"/><circle cx="652.8" cy="437.1" r="2.85"/><circle cx="638.9" cy="419.3" r="2.85"/><circle cx="627.3" cy="418.9" r="2.85"/><circle cx="622.4" cy="414.3" r="2.85"/><circle cx="627.7" cy="409.5" r="2.85"/><circle cx="624.7" cy="397.9" r="2.85"/><circle cx="637.3" cy="395.3" r="2.85"/><circle cx="674.0" cy="404.5" r="2.85"/><circle cx="668.7" cy="409.5" r="2.85"/><circle cx="662.7" cy="414.3" r="2.85"/><circle cx="637.1" cy="440.1" r="2.85"/><circle cx="630.5" cy="431.8" r="2.85"/><circle cx="629.3" cy="436.0" r="2.85"/><circle cx="629.3" cy="451.7" r="2.85"/><circle cx="627.3" cy="456.7" r="2.85"/><circle cx="640.1" cy="454.0" r="2.85"/><circle cx="733.1" cy="398.6" r="2.85"/><circle cx="751.3" cy="399.1" r="2.85"/><circle cx="733.4" cy="418.1" r="2.85"/><circle cx="699.6" cy="445.4" r="2.85"/><circle cx="702.4" cy="449.5" r="2.85"/><circle cx="701.9" cy="451.5" r="2.85"/><circle cx="713.7" cy="452.0" r="2.85"/><circle cx="740.0" cy="452.0" r="2.85"/><circle cx="747.1" cy="439.6" r="2.85"/><circle cx="754.2" cy="437.1" r="2.85"/><circle cx="770.8" cy="437.6" r="2.85"/><circle cx="778.9" cy="443.8" r="2.85"/><circle cx="787.3" cy="454.0" r="2.85"/><circle cx="809.2" cy="456.5" r="2.85"/><circle cx="719.8" cy="460.3" r="2.85"/><circle cx="726.1" cy="457.8" r="2.85"/><circle cx="696.3" cy="462.3" r="2.85"/><circle cx="760.4" cy="463.3" r="2.85"/><circle cx="757.5" cy="467.3" r="2.85"/><circle cx="750.8" cy="471.1" r="2.85"/><circle cx="751.3" cy="475.7" r="2.85"/><circle cx="732.2" cy="474.0" r="2.85"/><circle cx="696.7" cy="472.7" r="2.85"/><circle cx="706.3" cy="475.2" r="2.85"/><circle cx="707.4" cy="475.7" r="2.85"/><circle cx="809.5" cy="474.9" r="2.85"/></g>
<g fill="#0000ff"><circle cx="485.9" cy="34.3" r="2.85"/><circle cx="489.5" cy="53.0" r="2.85"/><circle cx="502.9" cy="31.0" r="2.85"/><circle cx="510.2" cy="22.2" r="2.85"/><circle cx="517.0" cy="28.0" r="2.85"/><circle cx="512.3" cy="34.3" r="2.85"/><circle cx="520.9" cy="20.4" r="2.85"/><circle cx="525.2" cy="26.5" r="2.85"/><circle cx="534.3" cy="17.7" r="2.85"/><circle cx="530.5" cy="33.5" r="2.85"/><circle cx="533.5" cy="35.8" r="2.85"/><circle cx="519.9" cy="39.3" r="2.85"/><circle cx="519.0" cy="43.4" r="2.85"/><circle cx="523.4" cy="42.6" r="2.85"/><circle cx="510.0" cy="43.9" r="2.85"/><circle cx="514.8" cy="48.4" r="2.85"/><circle cx="509.5" cy="51.3" r="2.85"/><circle cx="522.8" cy="49.4" r="2.85"/><circle cx="524.4" cy="48.4" r="2.85"/><circle cx="530.7" cy="48.0" r="2.85"/><circle cx="533.8" cy="53.0" r="2.85"/><circle cx="521.9" cy="55.1" r="2.85"/><circle cx="527.2" cy="54.7" r="2.85"/><circle cx="525.9" cy="59.3" r="2.85"/><circle cx="529.2" cy="61.3" r="2.85"/><circle cx="502.6" cy="60.4" r="2.85"/><circle cx="499.1" cy="67.6" r="2.85"/><circle cx="494.8" cy="71.5" r="2.85"/><circle cx="509.7" cy="67.9" r="2.85"/><circle cx="515.8" cy="65.6" r="2.85"/><circle cx="518.6" cy="69.2" r="2.85"/><circle cx="524.2" cy="67.4" r="2.85"/><circle cx="519.3" cy="72.5" r="2.85"/><circle cx="530.5" cy="72.0" r="2.85"/><circle cx="515.3" cy="77.3" r="2.85"/><circle cx="523.9" cy="76.5" r="2.85"/><circle cx="526.4" cy="77.3" r="2.85"/><circle cx="528.5" cy="75.3" r="2.85"/><circle cx="519.3" cy="83.3" r="2.85"/><circle cx="526.9" cy="84.8" r="2.85"/><circle cx="533.8" cy="86.1" r="2.85"/><circle cx="521.4" cy="87.3" r="2.85"/><circle cx="532.2" cy="90.2" r="2.85"/><circle cx="507.9" cy="91.6" r="2.85"/><circle cx="518.6" cy="91.9" r="2.85"/><circle cx="524.7" cy="92.7" r="2.85"/><circle cx="515.3" cy="95.2" r="2.85"/><circle cx="527.2" cy="95.7" r="2.85"/><circle cx="517.0" cy="98.5" r="2.85"/><circle cx="525.6" cy="98.7" r="2.85"/><circle cx="541.6" cy="17.4" r="2.85"/><circle cx="549.6" cy="19.1" r="2.85"/><circle cx="554.9" cy="19.1" r="2.85"/><circle cx="564.5" cy="20.4" r="2.85"/><circle cx="582.2" cy="17.1" r="2.85"/><circle cx="582.7" cy="19.9" r="2.85"/><circle cx="539.1" cy="25.7" r="2.85"/><circle cx="551.2" cy="22.4" r="2.85"/><circle cx="556.2" cy="23.2" r="2.85"/><circle cx="551.5" cy="26.5" r="2.85"/><circle cx="558.2" cy="24.9" r="2.85"/><circle cx="571.1" cy="22.9" r="2.85"/><circle cx="557.3" cy="29.0" r="2.85"/><circle cx="558.2" cy="31.1" r="2.85"/><circle cx="570.2" cy="27.3" r="2.85"/><circle cx="570.2" cy="30.2" r="2.85"/><circle cx="581.3" cy="27.8" r="2.85"/><circle cx="584.3" cy="29.8" r="2.85"/><circle cx="587.9" cy="31.8" r="2.85"/><circle cx="590.9" cy="36.4" r="2.85"/><circle cx="601.5" cy="22.4" r="2.85"/><circle cx="604.2" cy="29.8" r="2.85"/><circle cx="603.7" cy="32.8" r="2.85"/><circle cx="542.9" cy="36.1" r="2.85"/><circle cx="546.6" cy="35.6" r="2.85"/><circle cx="553.5" cy="37.3" r="2.85"/><circle cx="556.2" cy="36.4" r="2.85"/><circle cx="559.8" cy="36.4" r="2.85"/><circle cx="565.6" cy="35.6" r="2.85"/><circle cx="568.1" cy="37.3" r="2.85"/><circle cx="570.6" cy="38.9" r="2.85"/><circle cx="573.1" cy="38.9" r="2.85"/><circle cx="538.6" cy="40.6" r="2.85"/><circle cx="542.4" cy="42.2" r="2.85"/><circle cx="546.3" cy="45.2" r="2.85"/><circle cx="552.4" cy="40.6" r="2.85"/><circle cx="559.8" cy="44.4" r="2.85"/><circle cx="576.0" cy="43.9" r="2.85"/><circle cx="588.8" cy="46.4" r="2.85"/><circle cx="552.4" cy="47.7" r="2.85"/><circle cx="554.9" cy="50.5" r="2.85"/><circle cx="556.5" cy="53.0" r="2.85"/><circle cx="564.0" cy="50.0" r="2.85"/><circle cx="570.6" cy="49.4" r="2.85"/><circle cx="572.7" cy="53.0" r="2.85"/><circle cx="541.3" cy="51.3" r="2.85"/><circle cx="537.5" cy="57.6" r="2.85"/><circle cx="544.9" cy="56.0" r="2.85"/><circle cx="547.4" cy="56.0" r="2.85"/><circle cx="558.2" cy="57.1" r="2.85"/><circle cx="560.6" cy="57.6" r="2.85"/><circle cx="568.9" cy="56.3" r="2.85"/><circle cx="574.7" cy="57.6" r="2.85"/><circle cx="571.7" cy="60.4" r="2.85"/><circle cx="583.8" cy="54.3" r="2.85"/><circle cx="595.4" cy="57.6" r="2.85"/><circle cx="587.6" cy="63.3" r="2.85"/><circle cx="600.9" cy="63.3" r="2.85"/><circle cx="535.8" cy="63.8" r="2.85"/><circle cx="547.4" cy="62.9" r="2.85"/><circle cx="550.2" cy="62.1" r="2.85"/><circle cx="553.5" cy="62.6" r="2.85"/><circle cx="564.8" cy="63.8" r="2.85"/><circle cx="561.1" cy="67.9" r="2.85"/><circle cx="570.6" cy="69.2" r="2.85"/><circle cx="541.9" cy="72.5" r="2.85"/><circle cx="553.7" cy="72.0" r="2.85"/><circle cx="559.5" cy="72.5" r="2.85"/><circle cx="583.3" cy="75.3" r="2.85"/><circle cx="595.4" cy="78.3" r="2.85"/><circle cx="544.9" cy="79.5" r="2.85"/><circle cx="554.0" cy="80.3" r="2.85"/><circle cx="558.2" cy="81.5" r="2.85"/><circle cx="570.1" cy="80.8" r="2.85"/><circle cx="568.9" cy="83.6" r="2.85"/><circle cx="570.6" cy="86.1" r="2.85"/><circle cx="574.7" cy="86.9" r="2.85"/><circle cx="540.0" cy="87.3" r="2.85"/><circle cx="549.1" cy="87.8" r="2.85"/><circle cx="556.2" cy="87.8" r="2.85"/><circle cx="550.2" cy="91.9" r="2.85"/><circle cx="559.8" cy="91.1" r="2.85"/><circle cx="561.5" cy="95.7" r="2.85"/><circle cx="567.8" cy="93.5" r="2.85"/><circle cx="577.2" cy="92.4" r="2.85"/><circle cx="583.3" cy="89.7" r="2.85"/><circle cx="590.4" cy="95.2" r="2.85"/><circle cx="601.2" cy="95.2" r="2.85"/><circle cx="539.1" cy="94.4" r="2.85"/><circle cx="541.6" cy="97.7" r="2.85"/><circle cx="558.2" cy="95.2" r="2.85"/><circle cx="535.8" cy="90.2" r="2.85"/><circle cx="420.0" cy="101.7" r="2.85"/><circle cx="448.3" cy="116.9" r="2.85"/><circle cx="498.8" cy="102.5" r="2.85"/><circle cx="513.2" cy="103.3" r="2.85"/><circle cx="519.3" cy="106.6" r="2.85"/><circle cx="516.1" cy="111.1" r="2.85"/><circle cx="511.2" cy="113.2" r="2.85"/><circle cx="513.7" cy="116.6" r="2.85"/><circle cx="504.1" cy="116.9" r="2.85"/><circle cx="520.9" cy="114.1" r="2.85"/><circle cx="523.4" cy="115.2" r="2.85"/><circle cx="501.6" cy="122.7" r="2.85"/><circle cx="508.2" cy="122.0" r="2.85"/><circle cx="498.8" cy="128.1" r="2.85"/><circle cx="502.1" cy="128.5" r="2.85"/><circle cx="522.8" cy="123.7" r="2.85"/><circle cx="521.4" cy="124.8" r="2.85"/><circle cx="533.8" cy="121.5" r="2.85"/><circle cx="516.0" cy="131.1" r="2.85"/><circle cx="525.9" cy="129.8" r="2.85"/><circle cx="533.0" cy="129.8" r="2.85"/><circle cx="478.7" cy="139.2" r="2.85"/><circle cx="506.2" cy="134.8" r="2.85"/><circle cx="509.4" cy="135.6" r="2.85"/><circle cx="512.3" cy="136.1" r="2.85"/><circle cx="506.5" cy="139.7" r="2.85"/><circle cx="518.1" cy="141.4" r="2.85"/><circle cx="523.6" cy="137.7" r="2.85"/><circle cx="528.9" cy="135.1" r="2.85"/><circle cx="508.2" cy="143.4" r="2.85"/><circle cx="510.3" cy="145.0" r="2.85"/><circle cx="529.7" cy="144.4" r="2.85"/><circle cx="533.0" cy="143.0" r="2.85"/><circle cx="516.5" cy="147.7" r="2.85"/><circle cx="523.9" cy="147.2" r="2.85"/><circle cx="515.3" cy="150.5" r="2.85"/><circle cx="513.2" cy="153.0" r="2.85"/><circle cx="521.4" cy="151.3" r="2.85"/><circle cx="520.9" cy="153.8" r="2.85"/><circle cx="492.5" cy="153.3" r="2.85"/><circle cx="504.6" cy="153.8" r="2.85"/><circle cx="504.1" cy="157.1" r="2.85"/><circle cx="506.5" cy="159.3" r="2.85"/><circle cx="514.8" cy="158.3" r="2.85"/><circle cx="497.4" cy="160.4" r="2.85"/><circle cx="500.4" cy="160.9" r="2.85"/><circle cx="528.9" cy="154.6" r="2.85"/><circle cx="532.2" cy="154.6" r="2.85"/><circle cx="523.1" cy="159.3" r="2.85"/><circle cx="522.3" cy="162.1" r="2.85"/><circle cx="524.7" cy="163.7" r="2.85"/><circle cx="528.1" cy="165.4" r="2.85"/><circle cx="533.5" cy="162.1" r="2.85"/><circle cx="533.8" cy="167.0" r="2.85"/><circle cx="505.7" cy="170.8" r="2.85"/><circle cx="512.3" cy="170.3" r="2.85"/><circle cx="519.8" cy="169.5" r="2.85"/><circle cx="514.0" cy="173.6" r="2.85"/><circle cx="516.5" cy="176.1" r="2.85"/><circle cx="523.9" cy="173.6" r="2.85"/><circle cx="529.7" cy="176.1" r="2.85"/><circle cx="506.5" cy="176.5" r="2.85"/><circle cx="518.1" cy="177.0" r="2.85"/><circle cx="522.3" cy="180.3" r="2.85"/><circle cx="491.3" cy="178.6" r="2.85"/><circle cx="503.7" cy="181.9" r="2.85"/><circle cx="509.9" cy="181.9" r="2.85"/><circle cx="507.4" cy="184.7" r="2.85"/><circle cx="518.1" cy="185.7" r="2.85"/><circle cx="495.5" cy="186.4" r="2.85"/><circle cx="485.9" cy="189.7" r="2.85"/><circle cx="507.4" cy="190.7" r="2.85"/><circle cx="533.8" cy="181.1" r="2.85"/><circle cx="532.2" cy="189.4" r="2.85"/><circle cx="527.2" cy="190.7" r="2.85"/><circle cx="508.2" cy="194.0" r="2.85"/><circle cx="524.7" cy="193.5" r="2.85"/><circle cx="551.5" cy="101.7" r="2.85"/><circle cx="554.5" cy="105.0" r="2.85"/><circle cx="563.1" cy="103.3" r="2.85"/><circle cx="569.7" cy="106.3" r="2.85"/><circle cx="569.7" cy="109.1" r="2.85"/><circle cx="576.4" cy="108.3" r="2.85"/><circle cx="559.0" cy="110.3" r="2.85"/><circle cx="564.0" cy="111.3" r="2.85"/><circle cx="556.5" cy="115.7" r="2.85"/><circle cx="551.5" cy="115.2" r="2.85"/><circle cx="538.3" cy="112.4" r="2.85"/><circle cx="535.8" cy="114.1" r="2.85"/><circle cx="545.8" cy="119.5" r="2.85"/><circle cx="549.1" cy="120.7" r="2.85"/><circle cx="561.5" cy="120.2" r="2.85"/><circle cx="559.5" cy="124.8" r="2.85"/><circle cx="560.6" cy="126.5" r="2.85"/><circle cx="554.9" cy="127.3" r="2.85"/><circle cx="540.0" cy="128.1" r="2.85"/><circle cx="565.1" cy="129.8" r="2.85"/><circle cx="551.2" cy="134.8" r="2.85"/><circle cx="559.8" cy="135.1" r="2.85"/><circle cx="561.5" cy="133.1" r="2.85"/><circle cx="536.7" cy="133.1" r="2.85"/><circle cx="539.1" cy="138.1" r="2.85"/><circle cx="544.9" cy="139.4" r="2.85"/><circle cx="553.2" cy="138.9" r="2.85"/><circle cx="542.4" cy="143.4" r="2.85"/><circle cx="555.7" cy="142.5" r="2.85"/><circle cx="565.6" cy="138.4" r="2.85"/><circle cx="581.0" cy="119.0" r="2.85"/><circle cx="588.8" cy="120.7" r="2.85"/><circle cx="595.4" cy="111.9" r="2.85"/><circle cx="577.2" cy="132.3" r="2.85"/><circle cx="601.7" cy="130.9" r="2.85"/><circle cx="587.9" cy="139.4" r="2.85"/><circle cx="589.6" cy="141.4" r="2.85"/><circle cx="569.7" cy="146.8" r="2.85"/><circle cx="574.2" cy="152.5" r="2.85"/><circle cx="549.9" cy="151.3" r="2.85"/><circle cx="546.3" cy="153.0" r="2.85"/><circle cx="542.4" cy="153.8" r="2.85"/><circle cx="538.3" cy="154.6" r="2.85"/><circle cx="535.8" cy="155.4" r="2.85"/><circle cx="553.5" cy="155.4" r="2.85"/><circle cx="551.5" cy="159.3" r="2.85"/><circle cx="556.5" cy="159.6" r="2.85"/><circle cx="559.5" cy="163.2" r="2.85"/><circle cx="542.9" cy="162.6" r="2.85"/><circle cx="568.6" cy="164.9" r="2.85"/><circle cx="569.3" cy="167.5" r="2.85"/><circle cx="578.0" cy="169.2" r="2.85"/><circle cx="567.3" cy="172.0" r="2.85"/><circle cx="539.1" cy="170.3" r="2.85"/><circle cx="549.6" cy="174.5" r="2.85"/><circle cx="554.9" cy="177.0" r="2.85"/><circle cx="559.8" cy="178.6" r="2.85"/><circle cx="539.1" cy="178.6" r="2.85"/><circle cx="544.1" cy="182.4" r="2.85"/><circle cx="568.1" cy="181.4" r="2.85"/><circle cx="554.4" cy="183.6" r="2.85"/><circle cx="549.1" cy="186.9" r="2.85"/><circle cx="556.5" cy="187.7" r="2.85"/><circle cx="553.2" cy="190.7" r="2.85"/><circle cx="559.8" cy="191.0" r="2.85"/><circle cx="536.7" cy="186.9" r="2.85"/><circle cx="546.6" cy="192.7" r="2.85"/><circle cx="488.0" cy="202.4" r="2.85"/><circle cx="496.3" cy="202.4" r="2.85"/><circle cx="509.0" cy="203.3" r="2.85"/><circle cx="513.2" cy="202.0" r="2.85"/><circle cx="511.5" cy="206.6" r="2.85"/><circle cx="520.6" cy="201.3" r="2.85"/><circle cx="528.1" cy="200.0" r="2.85"/><circle cx="530.5" cy="206.9" r="2.85"/><circle cx="522.3" cy="196.3" r="2.85"/><circle cx="510.7" cy="211.6" r="2.85"/><circle cx="515.6" cy="212.9" r="2.85"/><circle cx="495.5" cy="213.2" r="2.85"/><circle cx="499.4" cy="217.7" r="2.85"/><circle cx="469.6" cy="217.7" r="2.85"/><circle cx="480.1" cy="219.3" r="2.85"/><circle cx="488.0" cy="218.7" r="2.85"/><circle cx="490.0" cy="220.3" r="2.85"/><circle cx="508.2" cy="219.8" r="2.85"/><circle cx="521.9" cy="216.5" r="2.85"/><circle cx="524.7" cy="214.9" r="2.85"/><circle cx="530.5" cy="216.2" r="2.85"/><circle cx="534.7" cy="219.8" r="2.85"/><circle cx="521.4" cy="221.1" r="2.85"/><circle cx="507.4" cy="225.6" r="2.85"/><circle cx="505.7" cy="227.8" r="2.85"/><circle cx="515.6" cy="226.1" r="2.85"/><circle cx="513.2" cy="228.9" r="2.85"/><circle cx="526.4" cy="226.4" r="2.85"/><circle cx="521.9" cy="228.9" r="2.85"/><circle cx="487.0" cy="231.1" r="2.85"/><circle cx="492.1" cy="230.6" r="2.85"/><circle cx="509.0" cy="233.4" r="2.85"/><circle cx="511.5" cy="233.1" r="2.85"/><circle cx="475.1" cy="235.2" r="2.85"/><circle cx="485.9" cy="241.7" r="2.85"/><circle cx="496.3" cy="245.1" r="2.85"/><circle cx="482.5" cy="246.6" r="2.85"/><circle cx="475.6" cy="250.4" r="2.85"/><circle cx="450.8" cy="252.4" r="2.85"/><circle cx="508.2" cy="238.9" r="2.85"/><circle cx="512.0" cy="239.7" r="2.85"/><circle cx="507.4" cy="243.8" r="2.85"/><circle cx="509.9" cy="247.6" r="2.85"/><circle cx="512.3" cy="248.8" r="2.85"/><circle cx="520.6" cy="238.0" r="2.85"/><circle cx="523.1" cy="238.9" r="2.85"/><circle cx="519.8" cy="242.2" r="2.85"/><circle cx="533.0" cy="238.9" r="2.85"/><circle cx="518.1" cy="249.6" r="2.85"/><circle cx="520.3" cy="252.6" r="2.85"/><circle cx="523.1" cy="254.3" r="2.85"/><circle cx="511.5" cy="252.1" r="2.85"/><circle cx="509.9" cy="254.9" r="2.85"/><circle cx="502.1" cy="252.1" r="2.85"/><circle cx="490.0" cy="254.6" r="2.85"/><circle cx="490.8" cy="257.6" r="2.85"/><circle cx="495.5" cy="260.9" r="2.85"/><circle cx="499.9" cy="259.2" r="2.85"/><circle cx="503.7" cy="262.0" r="2.85"/><circle cx="482.2" cy="264.2" r="2.85"/><circle cx="515.6" cy="262.0" r="2.85"/><circle cx="531.4" cy="257.9" r="2.85"/><circle cx="506.5" cy="267.3" r="2.85"/><circle cx="509.9" cy="271.6" r="2.85"/><circle cx="520.6" cy="271.1" r="2.85"/><circle cx="523.9" cy="269.8" r="2.85"/><circle cx="525.6" cy="271.5" r="2.85"/><circle cx="533.8" cy="267.0" r="2.85"/><circle cx="469.3" cy="272.3" r="2.85"/><circle cx="494.1" cy="273.6" r="2.85"/><circle cx="486.7" cy="276.6" r="2.85"/><circle cx="488.3" cy="281.1" r="2.85"/><circle cx="497.4" cy="278.2" r="2.85"/><circle cx="504.9" cy="277.3" r="2.85"/><circle cx="515.3" cy="276.6" r="2.85"/><circle cx="523.9" cy="278.6" r="2.85"/><circle cx="530.5" cy="274.4" r="2.85"/><circle cx="531.4" cy="277.3" r="2.85"/><circle cx="473.8" cy="281.6" r="2.85"/><circle cx="474.3" cy="287.7" r="2.85"/><circle cx="485.0" cy="287.7" r="2.85"/><circle cx="499.1" cy="286.0" r="2.85"/><circle cx="512.0" cy="283.5" r="2.85"/><circle cx="519.8" cy="285.2" r="2.85"/><circle cx="523.1" cy="284.4" r="2.85"/><circle cx="532.2" cy="284.4" r="2.85"/><circle cx="428.8" cy="287.7" r="2.85"/><circle cx="512.3" cy="289.3" r="2.85"/><circle cx="586.0" cy="197.8" r="2.85"/><circle cx="547.9" cy="199.1" r="2.85"/><circle cx="564.0" cy="198.6" r="2.85"/><circle cx="566.4" cy="200.0" r="2.85"/><circle cx="536.7" cy="201.6" r="2.85"/><circle cx="541.6" cy="203.3" r="2.85"/><circle cx="556.5" cy="206.6" r="2.85"/><circle cx="567.6" cy="207.9" r="2.85"/><circle cx="537.5" cy="207.4" r="2.85"/><circle cx="544.1" cy="207.4" r="2.85"/><circle cx="546.9" cy="206.9" r="2.85"/><circle cx="542.4" cy="210.7" r="2.85"/><circle cx="543.6" cy="212.4" r="2.85"/><circle cx="557.3" cy="212.0" r="2.85"/><circle cx="563.1" cy="212.0" r="2.85"/><circle cx="566.1" cy="216.2" r="2.85"/><circle cx="566.4" cy="217.8" r="2.85"/><circle cx="549.4" cy="216.2" r="2.85"/><circle cx="553.7" cy="219.8" r="2.85"/><circle cx="559.8" cy="217.3" r="2.85"/><circle cx="559.0" cy="219.8" r="2.85"/><circle cx="548.6" cy="222.3" r="2.85"/><circle cx="577.7" cy="222.6" r="2.85"/><circle cx="539.1" cy="225.3" r="2.85"/><circle cx="557.3" cy="225.3" r="2.85"/><circle cx="545.8" cy="230.6" r="2.85"/><circle cx="552.0" cy="231.9" r="2.85"/><circle cx="555.2" cy="230.1" r="2.85"/><circle cx="566.1" cy="230.1" r="2.85"/><circle cx="575.9" cy="230.6" r="2.85"/><circle cx="574.4" cy="234.2" r="2.85"/><circle cx="567.3" cy="236.0" r="2.85"/><circle cx="565.9" cy="239.4" r="2.85"/><circle cx="560.1" cy="236.4" r="2.85"/><circle cx="561.0" cy="238.9" r="2.85"/><circle cx="557.0" cy="240.0" r="2.85"/><circle cx="540.8" cy="237.2" r="2.85"/><circle cx="535.0" cy="243.3" r="2.85"/><circle cx="541.1" cy="246.8" r="2.85"/><circle cx="554.9" cy="246.3" r="2.85"/><circle cx="559.5" cy="247.6" r="2.85"/><circle cx="558.5" cy="250.4" r="2.85"/><circle cx="564.5" cy="246.3" r="2.85"/><circle cx="566.1" cy="250.4" r="2.85"/><circle cx="564.5" cy="253.3" r="2.85"/><circle cx="580.5" cy="247.1" r="2.85"/><circle cx="538.8" cy="254.6" r="2.85"/><circle cx="544.4" cy="253.3" r="2.85"/><circle cx="573.9" cy="257.4" r="2.85"/><circle cx="584.1" cy="257.4" r="2.85"/><circle cx="587.1" cy="258.4" r="2.85"/><circle cx="589.6" cy="258.7" r="2.85"/><circle cx="537.0" cy="261.7" r="2.85"/><circle cx="540.3" cy="266.2" r="2.85"/><circle cx="561.0" cy="262.5" r="2.85"/><circle cx="559.8" cy="264.5" r="2.85"/><circle cx="552.0" cy="271.6" r="2.85"/><circle cx="565.3" cy="273.1" r="2.85"/><circle cx="586.8" cy="272.3" r="2.85"/><circle cx="585.0" cy="275.3" r="2.85"/><circle cx="579.3" cy="278.2" r="2.85"/><circle cx="544.4" cy="279.4" r="2.85"/><circle cx="538.3" cy="280.6" r="2.85"/><circle cx="541.1" cy="283.9" r="2.85"/><circle cx="560.6" cy="278.2" r="2.85"/><circle cx="557.8" cy="280.6" r="2.85"/><circle cx="561.8" cy="284.4" r="2.85"/><circle cx="560.6" cy="287.7" r="2.85"/><circle cx="583.0" cy="289.3" r="2.85"/><circle cx="559.8" cy="289.3" r="2.85"/><circle cx="411.1" cy="307.0" r="2.85"/><circle cx="399.8" cy="323.4" r="2.85"/><circle cx="396.2" cy="341.8" r="2.85"/><circle cx="458.2" cy="340.0" r="2.85"/><circle cx="475.4" cy="311.8" r="2.85"/><circle cx="484.5" cy="314.8" r="2.85"/><circle cx="484.5" cy="317.6" r="2.85"/><circle cx="480.9" cy="344.1" r="2.85"/><circle cx="487.8" cy="347.1" r="2.85"/><circle cx="480.4" cy="369.8" r="2.85"/><circle cx="498.3" cy="351.6" r="2.85"/><circle cx="502.4" cy="349.3" r="2.85"/><circle cx="504.9" cy="347.9" r="2.85"/><circle cx="508.2" cy="343.0" r="2.85"/><circle cx="514.5" cy="338.3" r="2.85"/><circle cx="512.3" cy="351.2" r="2.85"/><circle cx="516.5" cy="345.4" r="2.85"/><circle cx="504.1" cy="357.4" r="2.85"/><circle cx="500.7" cy="363.2" r="2.85"/><circle cx="506.5" cy="362.8" r="2.85"/><circle cx="508.2" cy="365.8" r="2.85"/><circle cx="492.8" cy="367.3" r="2.85"/><circle cx="490.5" cy="370.6" r="2.85"/><circle cx="504.6" cy="380.2" r="2.85"/><circle cx="512.3" cy="377.7" r="2.85"/><circle cx="515.3" cy="374.4" r="2.85"/><circle cx="513.2" cy="381.9" r="2.85"/><circle cx="523.9" cy="369.4" r="2.85"/><circle cx="524.2" cy="376.1" r="2.85"/><circle cx="530.2" cy="376.1" r="2.85"/><circle cx="530.5" cy="379.4" r="2.85"/><circle cx="519.0" cy="362.0" r="2.85"/><circle cx="519.3" cy="356.2" r="2.85"/><circle cx="520.6" cy="352.9" r="2.85"/><circle cx="524.7" cy="356.2" r="2.85"/><circle cx="528.1" cy="359.5" r="2.85"/><circle cx="532.2" cy="362.8" r="2.85"/><circle cx="533.8" cy="367.0" r="2.85"/><circle cx="533.0" cy="357.0" r="2.85"/><circle cx="530.5" cy="352.1" r="2.85"/><circle cx="533.0" cy="347.9" r="2.85"/><circle cx="528.1" cy="347.1" r="2.85"/><circle cx="531.4" cy="343.0" r="2.85"/><circle cx="533.8" cy="339.7" r="2.85"/><circle cx="529.7" cy="333.9" r="2.85"/><circle cx="525.9" cy="332.2" r="2.85"/><circle cx="523.4" cy="336.3" r="2.85"/><circle cx="520.3" cy="339.3" r="2.85"/><circle cx="517.3" cy="329.7" r="2.85"/><circle cx="514.5" cy="328.9" r="2.85"/><circle cx="506.9" cy="328.4" r="2.85"/><circle cx="506.5" cy="331.4" r="2.85"/><circle cx="510.3" cy="333.4" r="2.85"/><circle cx="502.4" cy="334.4" r="2.85"/><circle cx="499.4" cy="332.7" r="2.85"/><circle cx="495.0" cy="292.5" r="2.85"/><circle cx="499.1" cy="295.0" r="2.85"/><circle cx="502.1" cy="296.6" r="2.85"/><circle cx="501.6" cy="300.8" r="2.85"/><circle cx="500.4" cy="304.1" r="2.85"/><circle cx="500.7" cy="307.4" r="2.85"/><circle cx="506.5" cy="306.1" r="2.85"/><circle cx="508.2" cy="309.0" r="2.85"/><circle cx="510.7" cy="310.2" r="2.85"/><circle cx="504.9" cy="314.5" r="2.85"/><circle cx="508.2" cy="297.8" r="2.85"/><circle cx="516.5" cy="295.8" r="2.85"/><circle cx="518.1" cy="299.1" r="2.85"/><circle cx="521.4" cy="294.1" r="2.85"/><circle cx="520.6" cy="301.6" r="2.85"/><circle cx="523.1" cy="300.8" r="2.85"/><circle cx="526.4" cy="295.8" r="2.85"/><circle cx="528.9" cy="292.5" r="2.85"/><circle cx="528.9" cy="304.9" r="2.85"/><circle cx="528.1" cy="307.4" r="2.85"/><circle cx="515.6" cy="309.5" r="2.85"/><circle cx="521.4" cy="311.5" r="2.85"/><circle cx="524.7" cy="312.3" r="2.85"/><circle cx="520.6" cy="315.7" r="2.85"/><circle cx="513.2" cy="317.3" r="2.85"/><circle cx="518.1" cy="319.5" r="2.85"/><circle cx="524.7" cy="319.8" r="2.85"/><circle cx="528.9" cy="320.6" r="2.85"/><circle cx="526.4" cy="314.8" r="2.85"/><circle cx="533.8" cy="317.3" r="2.85"/><circle cx="537.5" cy="290.8" r="2.85"/><circle cx="579.3" cy="294.6" r="2.85"/><circle cx="583.5" cy="294.1" r="2.85"/><circle cx="545.8" cy="299.1" r="2.85"/><circle cx="556.0" cy="301.6" r="2.85"/><circle cx="562.0" cy="300.8" r="2.85"/><circle cx="561.5" cy="304.1" r="2.85"/><circle cx="578.4" cy="303.2" r="2.85"/><circle cx="562.3" cy="307.4" r="2.85"/><circle cx="562.6" cy="309.9" r="2.85"/><circle cx="568.6" cy="310.2" r="2.85"/><circle cx="556.0" cy="310.2" r="2.85"/><circle cx="553.2" cy="313.2" r="2.85"/><circle cx="548.6" cy="314.5" r="2.85"/><circle cx="547.9" cy="317.6" r="2.85"/><circle cx="539.1" cy="311.5" r="2.85"/><circle cx="536.7" cy="310.7" r="2.85"/><circle cx="537.5" cy="314.5" r="2.85"/><circle cx="585.0" cy="315.3" r="2.85"/><circle cx="571.9" cy="321.9" r="2.85"/><circle cx="538.6" cy="327.7" r="2.85"/><circle cx="543.3" cy="326.4" r="2.85"/><circle cx="545.3" cy="328.4" r="2.85"/><circle cx="563.6" cy="330.1" r="2.85"/><circle cx="536.7" cy="334.4" r="2.85"/><circle cx="543.3" cy="335.0" r="2.85"/><circle cx="548.2" cy="335.0" r="2.85"/><circle cx="561.5" cy="339.2" r="2.85"/><circle cx="562.3" cy="341.6" r="2.85"/><circle cx="553.7" cy="340.8" r="2.85"/><circle cx="552.9" cy="343.0" r="2.85"/><circle cx="556.2" cy="344.3" r="2.85"/><circle cx="560.3" cy="347.4" r="2.85"/><circle cx="535.8" cy="343.0" r="2.85"/><circle cx="547.4" cy="348.3" r="2.85"/><circle cx="549.9" cy="350.4" r="2.85"/><circle cx="544.9" cy="353.2" r="2.85"/><circle cx="539.6" cy="352.9" r="2.85"/><circle cx="547.4" cy="356.2" r="2.85"/><circle cx="551.0" cy="356.7" r="2.85"/><circle cx="559.0" cy="357.4" r="2.85"/><circle cx="561.5" cy="355.0" r="2.85"/><circle cx="584.3" cy="356.5" r="2.85"/><circle cx="538.3" cy="358.7" r="2.85"/><circle cx="539.1" cy="361.2" r="2.85"/><circle cx="545.8" cy="362.8" r="2.85"/><circle cx="551.5" cy="361.2" r="2.85"/><circle cx="551.5" cy="365.3" r="2.85"/><circle cx="562.6" cy="363.2" r="2.85"/><circle cx="552.9" cy="370.3" r="2.85"/><circle cx="558.7" cy="371.9" r="2.85"/><circle cx="536.7" cy="370.8" r="2.85"/><circle cx="539.1" cy="373.6" r="2.85"/><circle cx="549.1" cy="375.2" r="2.85"/><circle cx="554.0" cy="375.7" r="2.85"/><circle cx="563.6" cy="377.7" r="2.85"/><circle cx="582.5" cy="377.7" r="2.85"/><circle cx="537.5" cy="381.0" r="2.85"/><circle cx="550.7" cy="384.3" r="2.85"/><circle cx="564.8" cy="384.0" r="2.85"/><circle cx="568.9" cy="384.7" r="2.85"/><circle cx="543.3" cy="384.7" r="2.85"/><circle cx="469.3" cy="429.7" r="2.85"/><circle cx="489.5" cy="419.4" r="2.85"/><circle cx="485.5" cy="438.3" r="2.85"/><circle cx="487.5" cy="444.3" r="2.85"/><circle cx="484.2" cy="451.5" r="2.85"/><circle cx="495.8" cy="400.7" r="2.85"/><circle cx="499.4" cy="392.0" r="2.85"/><circle cx="503.2" cy="390.8" r="2.85"/><circle cx="506.5" cy="389.1" r="2.85"/><circle cx="513.7" cy="386.7" r="2.85"/><circle cx="513.2" cy="390.0" r="2.85"/><circle cx="516.5" cy="391.6" r="2.85"/><circle cx="521.1" cy="388.3" r="2.85"/><circle cx="533.0" cy="388.3" r="2.85"/><circle cx="533.0" cy="395.8" r="2.85"/><circle cx="519.0" cy="395.3" r="2.85"/><circle cx="504.4" cy="399.6" r="2.85"/><circle cx="511.5" cy="402.4" r="2.85"/><circle cx="515.3" cy="400.2" r="2.85"/><circle cx="519.0" cy="400.7" r="2.85"/><circle cx="522.3" cy="403.2" r="2.85"/><circle cx="523.1" cy="404.9" r="2.85"/><circle cx="504.4" cy="405.2" r="2.85"/><circle cx="514.0" cy="406.2" r="2.85"/><circle cx="516.5" cy="408.2" r="2.85"/><circle cx="515.3" cy="411.1" r="2.85"/><circle cx="505.2" cy="412.8" r="2.85"/><circle cx="509.4" cy="411.5" r="2.85"/><circle cx="510.2" cy="414.8" r="2.85"/><circle cx="524.7" cy="411.1" r="2.85"/><circle cx="527.2" cy="412.3" r="2.85"/><circle cx="506.5" cy="421.1" r="2.85"/><circle cx="513.7" cy="423.1" r="2.85"/><circle cx="522.3" cy="421.1" r="2.85"/><circle cx="520.3" cy="424.4" r="2.85"/><circle cx="523.9" cy="425.5" r="2.85"/><circle cx="529.4" cy="426.0" r="2.85"/><circle cx="531.7" cy="420.1" r="2.85"/><circle cx="534.7" cy="415.6" r="2.85"/><circle cx="511.2" cy="429.7" r="2.85"/><circle cx="512.3" cy="432.7" r="2.85"/><circle cx="516.5" cy="433.0" r="2.85"/><circle cx="518.1" cy="436.3" r="2.85"/><circle cx="519.0" cy="441.3" r="2.85"/><circle cx="508.2" cy="442.6" r="2.85"/><circle cx="508.7" cy="445.9" r="2.85"/><circle cx="517.6" cy="448.7" r="2.85"/><circle cx="517.6" cy="456.2" r="2.85"/><circle cx="515.3" cy="460.3" r="2.85"/><circle cx="517.3" cy="464.8" r="2.85"/><circle cx="525.6" cy="460.6" r="2.85"/><circle cx="507.9" cy="470.2" r="2.85"/><circle cx="518.6" cy="475.7" r="2.85"/><circle cx="524.4" cy="470.2" r="2.85"/><circle cx="529.7" cy="469.9" r="2.85"/><circle cx="526.9" cy="442.9" r="2.85"/><circle cx="526.4" cy="438.0" r="2.85"/><circle cx="531.0" cy="433.0" r="2.85"/><circle cx="530.5" cy="435.5" r="2.85"/><circle cx="532.2" cy="451.2" r="2.85"/><circle cx="533.8" cy="457.8" r="2.85"/><circle cx="534.7" cy="439.6" r="2.85"/><circle cx="561.5" cy="389.1" r="2.85"/><circle cx="565.6" cy="387.0" r="2.85"/><circle cx="578.8" cy="392.0" r="2.85"/><circle cx="537.5" cy="394.9" r="2.85"/><circle cx="542.4" cy="395.3" r="2.85"/><circle cx="547.4" cy="395.8" r="2.85"/><circle cx="554.9" cy="395.8" r="2.85"/><circle cx="559.0" cy="398.6" r="2.85"/><circle cx="562.3" cy="396.9" r="2.85"/><circle cx="565.6" cy="400.2" r="2.85"/><circle cx="570.6" cy="401.1" r="2.85"/><circle cx="573.9" cy="402.9" r="2.85"/><circle cx="578.8" cy="405.7" r="2.85"/><circle cx="537.0" cy="404.9" r="2.85"/><circle cx="544.9" cy="404.9" r="2.85"/><circle cx="556.5" cy="405.7" r="2.85"/><circle cx="567.3" cy="405.7" r="2.85"/><circle cx="544.1" cy="411.5" r="2.85"/><circle cx="565.6" cy="411.8" r="2.85"/><circle cx="572.2" cy="411.8" r="2.85"/><circle cx="575.5" cy="411.8" r="2.85"/><circle cx="547.4" cy="414.8" r="2.85"/><circle cx="550.7" cy="416.1" r="2.85"/><circle cx="559.8" cy="415.6" r="2.85"/><circle cx="551.5" cy="420.6" r="2.85"/><circle cx="555.7" cy="423.9" r="2.85"/><circle cx="559.5" cy="424.2" r="2.85"/><circle cx="567.3" cy="421.1" r="2.85"/><circle cx="571.4" cy="423.9" r="2.85"/><circle cx="575.0" cy="419.8" r="2.85"/><circle cx="539.1" cy="428.9" r="2.85"/><circle cx="545.3" cy="428.4" r="2.85"/><circle cx="550.7" cy="428.0" r="2.85"/><circle cx="552.4" cy="430.0" r="2.85"/><circle cx="571.4" cy="430.0" r="2.85"/><circle cx="580.0" cy="431.8" r="2.85"/><circle cx="588.3" cy="430.2" r="2.85"/><circle cx="543.3" cy="433.5" r="2.85"/><circle cx="559.8" cy="433.8" r="2.85"/><circle cx="559.0" cy="436.8" r="2.85"/><circle cx="566.4" cy="436.3" r="2.85"/><circle cx="567.3" cy="440.4" r="2.85"/><circle cx="572.2" cy="441.8" r="2.85"/><circle cx="556.2" cy="442.1" r="2.85"/><circle cx="584.1" cy="444.1" r="2.85"/><circle cx="595.9" cy="446.7" r="2.85"/><circle cx="540.8" cy="443.3" r="2.85"/><circle cx="544.9" cy="444.6" r="2.85"/><circle cx="537.5" cy="447.1" r="2.85"/><circle cx="564.5" cy="447.1" r="2.85"/><circle cx="565.6" cy="450.4" r="2.85"/><circle cx="558.2" cy="449.2" r="2.85"/><circle cx="543.3" cy="452.0" r="2.85"/><circle cx="541.6" cy="454.2" r="2.85"/><circle cx="547.4" cy="455.3" r="2.85"/><circle cx="554.9" cy="452.9" r="2.85"/><circle cx="555.7" cy="456.2" r="2.85"/><circle cx="559.8" cy="454.5" r="2.85"/><circle cx="568.1" cy="452.9" r="2.85"/><circle cx="568.9" cy="456.2" r="2.85"/><circle cx="577.7" cy="457.0" r="2.85"/><circle cx="581.7" cy="459.1" r="2.85"/><circle cx="543.3" cy="460.3" r="2.85"/><circle cx="546.6" cy="462.5" r="2.85"/><circle cx="555.2" cy="461.1" r="2.85"/><circle cx="564.8" cy="460.3" r="2.85"/><circle cx="564.0" cy="462.8" r="2.85"/><circle cx="568.9" cy="463.6" r="2.85"/><circle cx="539.1" cy="466.9" r="2.85"/><circle cx="558.2" cy="467.8" r="2.85"/><circle cx="562.3" cy="471.1" r="2.85"/><circle cx="577.5" cy="471.6" r="2.85"/><circle cx="542.4" cy="473.5" r="2.85"/><circle cx="552.7" cy="473.5" r="2.85"/><circle cx="552.4" cy="476.9" r="2.85"/><circle cx="559.5" cy="476.9" r="2.85"/><circle cx="567.3" cy="475.7" r="2.85"/><circle cx="570.6" cy="475.7" r="2.85"/><circle cx="583.8" cy="476.5" r="2.85"/><circle cx="534.4" cy="188.9" r="2.85"/><circle cx="538.1" cy="192.2" r="2.85"/><circle cx="540.5" cy="194.4" r="2.85"/><circle cx="542.2" cy="191.4" r="2.85"/><circle cx="510.4" cy="207.9" r="2.85"/><circle cx="511.3" cy="228.6" r="2.85"/><circle cx="513.2" cy="226.1" r="2.85"/><circle cx="509.1" cy="240.2" r="2.85"/><circle cx="536.1" cy="180.9" r="2.85"/><circle cx="542.7" cy="208.3" r="2.85"/><circle cx="545.2" cy="455.3" r="2.85"/><circle cx="547.7" cy="453.2" r="2.85"/><circle cx="566.7" cy="460.3" r="2.85"/><circle cx="560.9" cy="437.6" r="2.85"/><circle cx="546.8" cy="416.4" r="2.85"/><circle cx="549.3" cy="414.8" r="2.85"/><circle cx="512.1" cy="400.7" r="2.85"/><circle cx="514.6" cy="403.2" r="2.85"/><circle cx="525.3" cy="422.7" r="2.85"/><circle cx="557.6" cy="396.6" r="2.85"/><circle cx="560.9" cy="398.6" r="2.85"/><circle cx="515.4" cy="99.8" r="2.85"/><circle cx="527.8" cy="100.2" r="2.85"/><circle cx="542.7" cy="141.2" r="2.85"/><circle cx="532.8" cy="156.4" r="2.85"/><circle cx="537.7" cy="156.9" r="2.85"/><circle cx="543.5" cy="156.1" r="2.85"/><circle cx="548.5" cy="154.4" r="2.85"/><circle cx="552.6" cy="156.9" r="2.85"/><circle cx="522.8" cy="90.7" r="2.85"/><circle cx="557.6" cy="89.1" r="2.85"/></g>
<text x="108.2" y="520.5" font-size="32" text-anchor="middle">-1</text>
<text x="95.5" y="491.6" font-size="32" text-anchor="end">-1</text>
<text x="322.3" y="520.5" font-size="32" text-anchor="middle">-0.5</text>
<text x="99.5" y="376.2" font-size="32" text-anchor="end">-0.5</text>
<text x="534.9" y="520.5" font-size="32" text-anchor="middle">0</text>
<text x="99.5" y="260.8" font-size="32" text-anchor="end">0</text>
<text x="747.4" y="520.5" font-size="32" text-anchor="middle">0.5</text>
<text x="99.5" y="145.4" font-size="32" text-anchor="end">0.5</text>
<text x="960.0" y="520.5" font-size="32" text-anchor="middle">1</text>
<text x="95.5" y="30.0" font-size="32" text-anchor="end">1</text>
<text x="534.7" y="565.5" font-size="34.7" text-anchor="middle">Muscle Curvature</text>
<text transform="translate(30.3,247.5) rotate(-90)" font-size="34.7" text-anchor="middle">Streamwise distance to vortex</text>
</svg></body></html>
